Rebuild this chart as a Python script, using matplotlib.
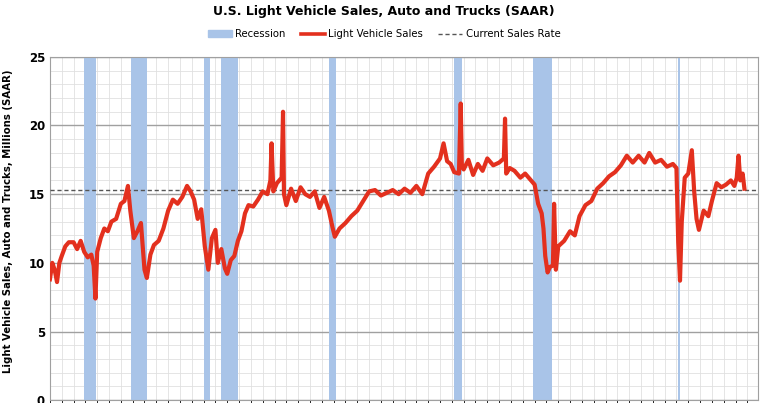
import matplotlib
matplotlib.use("Agg")
import matplotlib.pyplot as plt
from matplotlib.lines import Line2D
from matplotlib.patches import Patch
import numpy as np

# (year, sales SAAR millions)
points = [
 (1967.0,8.8),(1967.2,10.0),(1967.4,9.5),(1967.6,8.6),(1967.8,10.0),(1968.0,10.5),(1968.3,11.2),(1968.6,11.5),
 (1969.0,11.5),(1969.3,11.0),(1969.6,11.6),(1969.9,10.8),(1970.2,10.4),(1970.5,10.6),(1970.7,9.8),(1970.85,7.4),
 (1971.0,10.8),(1971.3,11.8),(1971.6,12.5),(1971.9,12.3),(1972.2,13.0),(1972.6,13.2),(1973.0,14.3),(1973.3,14.5),
 (1973.6,15.6),(1973.8,13.8),(1974.1,11.8),(1974.4,12.3),(1974.7,12.9),(1975.0,9.5),(1975.2,8.9),(1975.5,10.6),
 (1975.8,11.3),(1976.2,11.6),(1976.6,12.5),(1977.0,13.8),(1977.4,14.6),(1977.8,14.3),(1978.2,14.8),(1978.6,15.6),
 (1978.9,15.2),(1979.2,14.6),(1979.5,13.2),(1979.8,13.9),(1980.1,11.2),(1980.4,9.5),(1980.7,11.8),(1981.0,12.4),
 (1981.2,10.0),(1981.5,11.0),(1981.8,9.6),(1982.0,9.2),(1982.3,10.2),(1982.6,10.5),(1982.9,11.6),(1983.2,12.3),
 (1983.5,13.6),(1983.8,14.2),(1984.2,14.1),(1984.6,14.6),(1985.0,15.2),(1985.4,15.0),(1985.65,16.0),(1985.75,18.7),
 (1985.9,15.2),(1986.2,15.8),(1986.6,16.2),(1986.72,21.0),(1986.8,15.0),(1987.0,14.2),(1987.4,15.4),(1987.8,14.5),
 (1988.2,15.5),(1988.6,15.0),(1989.0,14.8),(1989.4,15.2),(1989.8,14.0),(1990.2,14.8),(1990.6,13.8),(1990.9,12.6),
 (1991.1,11.9),(1991.5,12.5),(1992.0,12.9),(1992.5,13.4),(1993.0,13.8),(1993.5,14.5),(1994.0,15.2),(1994.5,15.3),
 (1995.0,14.9),(1995.5,15.1),(1996.0,15.3),(1996.5,15.0),(1997.0,15.4),(1997.5,15.1),(1998.0,15.6),(1998.5,15.0),
 (1999.0,16.5),(1999.5,17.0),(2000.0,17.6),(2000.3,18.7),(2000.6,17.4),(2000.9,17.2),(2001.2,16.6),(2001.6,16.5),
 (2001.75,21.6),(2001.85,17.0),(2002.0,16.8),(2002.4,17.5),(2002.8,16.4),(2003.2,17.2),(2003.6,16.7),(2004.0,17.6),
 (2004.5,17.1),(2005.0,17.3),(2005.4,17.6),(2005.5,20.5),(2005.6,16.5),(2005.9,16.9),(2006.3,16.7),(2006.8,16.2),
 (2007.2,16.5),(2007.7,16.0),(2008.0,15.7),(2008.3,14.3),(2008.6,13.6),(2008.75,12.5),(2008.9,10.5),(2009.1,9.3),
 (2009.3,9.7),(2009.55,9.8),(2009.65,14.3),(2009.8,9.5),(2010.0,11.2),(2010.5,11.6),(2011.0,12.3),(2011.4,12.0),
 (2011.8,13.4),(2012.3,14.2),(2012.8,14.5),(2013.3,15.4),(2013.8,15.8),(2014.3,16.3),(2014.8,16.6),(2015.3,17.1),
 (2015.8,17.8),(2016.3,17.3),(2016.8,17.8),(2017.3,17.3),(2017.7,18.0),(2018.2,17.3),(2018.7,17.5),(2019.2,17.0),
 (2019.7,17.2),(2020.0,16.9),(2020.15,11.5),(2020.3,8.7),(2020.45,13.0),(2020.7,16.2),(2021.0,16.5),(2021.3,18.2),
 (2021.5,15.2),(2021.7,13.2),(2021.9,12.4),(2022.3,13.8),(2022.7,13.4),(2023.0,14.5),(2023.4,15.8),(2023.8,15.5),
 (2024.2,15.7),(2024.6,16.0),(2024.9,15.6),(2025.1,16.2),(2025.25,17.8),(2025.4,16.0),(2025.6,16.5),(2025.75,15.4),
]
years = [p[0] for p in points]
sales = [p[1] for p in points]
recessions = [(1969.9,1970.9),(1973.9,1975.2),(1980.0,1980.5),(1981.5,1982.9),(1990.6,1991.2),(2001.2,2001.9),(2007.9,2009.5),(2020.1,2020.3)]
current_rate = 15.3

fig = plt.figure(figsize=(7.68,4.03), dpi=100)
ax = fig.add_axes([0.065,0.007,0.922,0.852])
for a,b in recessions:
    ax.axvspan(a,b,color='#a9c4e8',lw=0,zorder=1)
ax.plot(years,sales,color='#e3301e',lw=3,zorder=4,solid_joinstyle='round')
ax.axhline(current_rate,color='#555555',lw=1,ls=(0,(3,2)),zorder=3)
ax.set_xlim(1967,2026.9)
ax.set_ylim(0,25)
ax.set_yticks([0,5,10,15,20,25])
ax.set_yticks(np.arange(0,25,1),minor=True)
ax.set_xticks(np.arange(1967,2027,1),minor=True)
ax.set_xticks([])
ax.grid(which='major',axis='y',color='#a0a0a0',lw=1,zorder=2)
ax.grid(which='minor',axis='y',color='#e0e0e0',lw=0.6,zorder=0)
ax.grid(which='minor',axis='x',color='#e0e0e0',lw=0.6,zorder=0)
ax.set_axisbelow(True)
ax.tick_params(axis='y',which='both',length=0,labelsize=8.5)
for lab in ax.get_yticklabels(): lab.set_fontweight('bold')
for s in ax.spines.values(): s.set_color('#a0a0a0')
ax.set_ylabel('Light Vehicle Sales, Auto and Trucks, Millions (SAAR)',fontsize=7.3,fontweight='bold')
ax.yaxis.set_label_coords(-0.052,0.52)
fig.text(0.5,0.972,'U.S. Light Vehicle Sales, Auto and Trucks (SAAR)',ha='center',va='center',fontsize=9,fontweight='bold')
handles=[Patch(color='#a9c4e8'),Line2D([],[],color='#e3301e',lw=2.6),Line2D([],[],color='#555555',lw=1,ls=(0,(3,2)))]
fig.legend(handles,['Recession','Light Vehicle Sales','Current Sales Rate'],loc='center',bbox_to_anchor=(0.5,0.915),ncol=3,frameon=False,fontsize=7.3,handlelength=2.4,columnspacing=1.5,handletextpad=0.3)
fig.savefig('out.png',dpi=100)
